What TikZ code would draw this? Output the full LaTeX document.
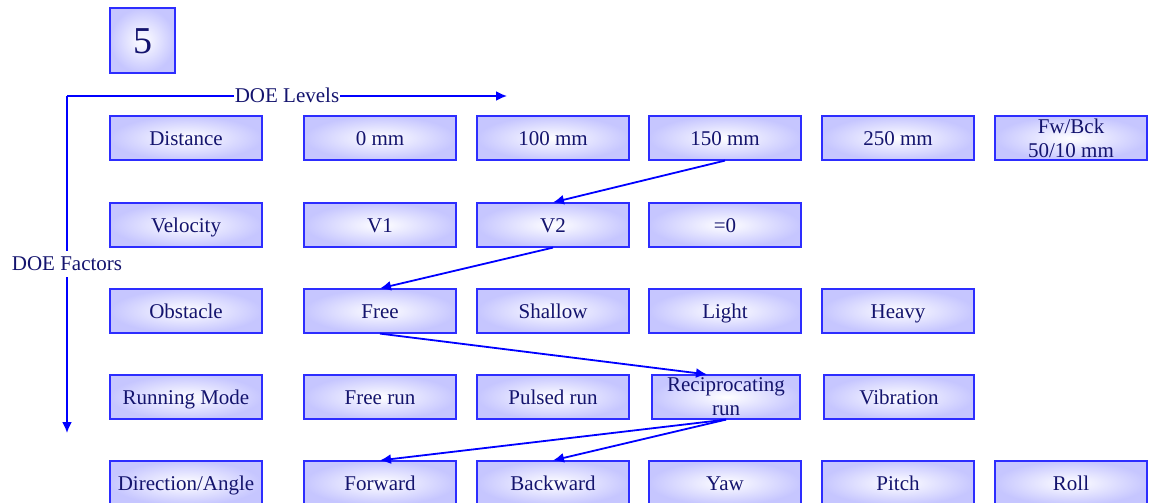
\documentclass[tikz,border=0pt]{standalone}
\usepackage{fontspec}
\setmainfont{Liberation Serif}
\usetikzlibrary{arrows.meta}
\definecolor{boxedge}{RGB}{45,45,255}
\definecolor{boxfill}{RGB}{198,198,255}
\definecolor{txt}{RGB}{20,20,110}
\definecolor{arr}{RGB}{0,0,255}
\tikzset{
  cell/.style={draw=boxedge, line width=1.2pt, inner color=white, outer color=boxfill,
    minimum width=152pt, minimum height=44pt, inner sep=0pt, text=txt,
    font=\fontsize{21}{24}\selectfont, align=center, text height=20pt, text depth=5pt},
  twoline/.style={text height=, text depth=, font=\fontsize{21}{24}\selectfont},
  link/.style={draw=arr, line width=1.8pt, -{Latex[length=11pt,width=10pt]}},
  axis/.style={draw=arr, line width=1.8pt, -{Latex[length=11pt,width=10pt]}},
  axlabel/.style={text=txt, font=\fontsize{21}{24}\selectfont, fill=white,
    inner xsep=1pt, inner ysep=4.5pt, text height=15pt, text depth=2pt}
}
\begin{document}
\begin{tikzpicture}[x=1pt,y=-1pt]
\useasboundingbox (0,0) rectangle (1151,503);
% number box
\node[cell, minimum width=65pt, minimum height=65pt, font=\fontsize{38}{40}\selectfont,
  text height=30pt, text depth=5pt] (num) at (142.5,40.5) {5};
% rows
\node[cell] (dist) at (186,138) {Distance};
\node[cell] (d0) at (380,138) {0 mm};
\node[cell] (d100) at (553,138) {100 mm};
\node[cell] (d150) at (725,138) {150 mm};
\node[cell] (d250) at (898,138) {250 mm};
\node[cell, twoline] (dfb) at (1071,138) {Fw/Bck\\50/10 mm};

\node[cell] (vel) at (186,225) {Velocity};
\node[cell] (v1) at (380,225) {V1};
\node[cell] (v2) at (553,225) {V2};
\node[cell] (v0) at (725,225) {=0};

\node[cell] (obs) at (186,311) {Obstacle};
\node[cell] (free) at (380,311) {Free};
\node[cell] (shallow) at (553,311) {Shallow};
\node[cell] (light) at (725,311) {Light};
\node[cell] (heavy) at (898,311) {Heavy};

\node[cell] (run) at (186,397) {Running Mode};
\node[cell] (frun) at (380,397) {Free run};
\node[cell] (prun) at (553,397) {Pulsed run};
\node[cell, twoline, minimum width=148pt] (rrun) at (726,397) {Reciprocating\\run};
\node[cell, minimum width=150pt] (vib) at (899,397) {Vibration};

\node[cell] (dir) at (186,483) {Direction/Angle};
\node[cell] (fwd) at (380,483) {Forward};
\node[cell] (bwd) at (553,483) {Backward};
\node[cell] (yaw) at (725,483) {Yaw};
\node[cell] (pitch) at (898,483) {Pitch};
\node[cell] (roll) at (1071,483) {Roll};

% axes
\coordinate (corner) at (67,96);
\coordinate (levend) at (507,96);
\coordinate (facend) at (67,433);
\draw[axis] (corner) -- (levend);
\draw[axis] (corner) -- (facend);
\node[axlabel] (levlab) at (287,96) {DOE Levels};
\node[axlabel] (faclab) at (67,264) {DOE Factors};

% links
\draw[link] (d150.south) -- (v2.north);
\draw[link] (v2.south) -- (free.north);
\draw[link] (free.south) -- ([xshift=-19pt]rrun.north);
\draw[link] (rrun.south) -- (fwd.north);
\draw[link] (rrun.south) -- (bwd.north);
\end{tikzpicture}
\end{document}
